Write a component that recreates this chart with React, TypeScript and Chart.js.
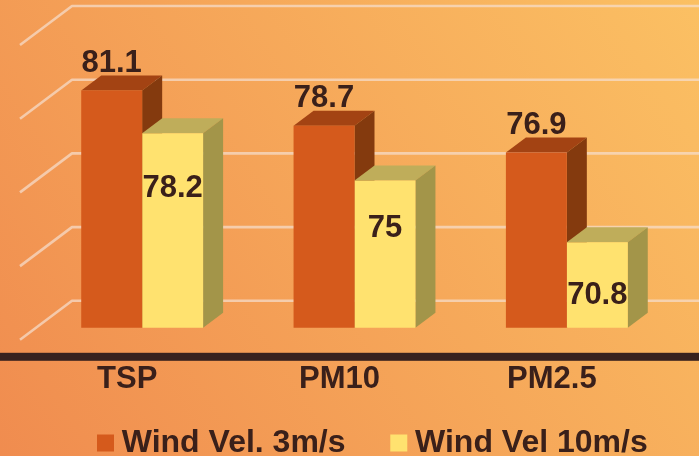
import React, { useEffect, useRef } from "react";
import { Chart, registerables } from "chart.js";

Chart.register(...registerables);

const categories = ["TSP", "PM10", "PM2.5"];
const seriesNames = ["Wind Vel. 3m/s", "Wind Vel 10m/s"];
const lowWind = [81.1, 78.7, 76.9];
const highWind = [78.2, 75, 70.8];

const INK = "#3A201A";
const FONT = "'Liberation Sans', Arial, sans-serif";
const FRONT = ["#D55A1C", "#FFE26F"];
const TOP = ["#A34313", "#BFAD5A"];
const SIDE = ["#843A0E", "#A39549"];

// Extrusion of each bar, and the walls of the box behind the bars.
const BAR_DX = 20;
const BAR_DY = -15;
const FLOOR_DROP = 12;
const WALL_RISE = 27;
const WALL_LEFT = 72;
const FLOOR_LEFT = 20;
// Distance of each value label's centre from its bar's top.
const LABEL_OFFSET = [[-27, -27, -27], [55, 48, 53]];

const polygon = (ctx: CanvasRenderingContext2D, pts: number[][], fill: string) => {
  ctx.beginPath();
  pts.forEach(([x, y], i) => (i ? ctx.lineTo(x, y) : ctx.moveTo(x, y)));
  ctx.closePath();
  ctx.fillStyle = fill;
  ctx.fill();
};

const scenePlugin = {
  id: "scene",
  afterLayout(chart: any) {
    // Legend sits at a fixed place under the axis band, on one row.
    chart.legend.left = 52.25;
    chart.legend.right = 760;
    chart.legend.top = 374;
  },
  beforeDraw(chart: any) {
    const { ctx, width, height } = chart;
    const g = ctx.createLinearGradient(0, height, width, 0);
    g.addColorStop(0, "#F08C4F");
    g.addColorStop(1, "#FBC063");
    ctx.fillStyle = g;
    ctx.fillRect(0, 0, width, height);
  },
  beforeDatasetsDraw(chart: any) {
    const { ctx, width, scales } = chart;
    const yScale = scales.y;
    ctx.save();
    // Perspective grid: floor edge up to the back wall, then across.
    ctx.strokeStyle = "rgba(245, 222, 205, 0.72)";
    ctx.lineWidth = 2.6;
    ctx.lineJoin = "round";
    yScale.ticks.forEach((t: any) => {
      const y = yScale.getPixelForValue(t.value);
      ctx.beginPath();
      ctx.moveTo(FLOOR_LEFT, y + FLOOR_DROP);
      ctx.lineTo(WALL_LEFT, y - WALL_RISE);
      ctx.lineTo(width, y - WALL_RISE);
      ctx.stroke();
    });
    // Top and side faces of the bars; front faces are the datasets themselves.
    chart.data.datasets.forEach((_: any, d: number) => {
      chart.getDatasetMeta(d).data.forEach((bar: any) => {
        const half = bar.width / 2;
        const l = bar.x - half;
        const r = bar.x + half;
        const t = bar.y;
        const b = yScale.bottom;
        polygon(ctx, [[l, t], [r, t], [r + BAR_DX, t + BAR_DY], [l + BAR_DX, t + BAR_DY]], TOP[d]);
        polygon(ctx, [[r, t], [r + BAR_DX, t + BAR_DY], [r + BAR_DX, b + BAR_DY], [r, b]], SIDE[d]);
      });
    });
    ctx.restore();
  },
  afterDatasetsDraw(chart: any) {
    const { ctx, width, scales } = chart;
    ctx.save();
    // Heavy baseline running the full width of the picture.
    ctx.fillStyle = "#38221F";
    ctx.fillRect(0, scales.y.bottom + 25, width, 8);
    // Value labels.
    ctx.font = `bold 31px ${FONT}`;
    ctx.textAlign = "center";
    ctx.textBaseline = "middle";
    ctx.fillStyle = INK;
    chart.data.datasets.forEach((ds: any, d: number) => {
      chart.getDatasetMeta(d).data.forEach((bar: any, i: number) => {
        ctx.fillText(String(ds.data[i]), bar.x, bar.y + LABEL_OFFSET[d][i]);
      });
    });
    ctx.restore();
  },
};

export default function App() {
  const ref = useRef<HTMLCanvasElement>(null);

  useEffect(() => {
    const chart = new Chart(ref.current as HTMLCanvasElement, {
      type: "bar",
      data: {
        labels: categories,
        datasets: [
          { label: seriesNames[0], data: lowWind, backgroundColor: FRONT[0], categoryPercentage: 0.574, barPercentage: 1 },
          { label: seriesNames[1], data: highWind, backgroundColor: FRONT[1], categoryPercentage: 0.574, barPercentage: 1 },
        ],
      },
      options: {
        responsive: false,
        animation: false,
        layout: { padding: { left: 0, right: 26, top: 33, bottom: -62 } },
        scales: {
          x: {
            grid: { display: false },
            border: { display: false },
            ticks: {
              color: INK,
              font: { family: FONT, size: 31, weight: "bold" },
              labelOffset: -15,
              padding: 25,
              maxRotation: 0,
              autoSkip: false,
            },
          },
          y: {
            display: false,
            min: 65,
            max: 85,
            ticks: { stepSize: 5 },
            afterFit: (s: any) => {
              s.width = 36;
            },
          },
        },
        plugins: {
          tooltip: { enabled: false },
          legend: {
            position: "bottom",
            align: "start",
            labels: {
              color: INK,
              font: { family: FONT, size: 32, weight: "bold" },
              usePointStyle: true,
              pointStyle: "rect",
              boxWidth: 0.5,
              boxHeight: 17,
              padding: 53,
            },
          },
        },
      },
      plugins: [scenePlugin],
    } as any);
    return () => chart.destroy();
  }, []);

  return (
    <div style={{ position: "absolute", left: 0, top: 0, width: 699, height: 456 }}>
      <canvas ref={ref} width={699} height={456} style={{ display: "block" }} />
    </div>
  );
}
